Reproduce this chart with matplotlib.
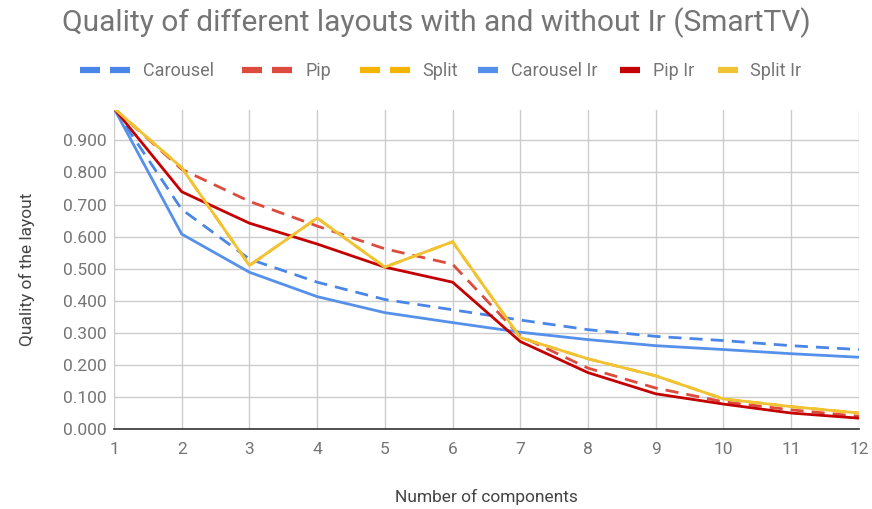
import matplotlib
matplotlib.use("Agg")
import matplotlib.pyplot as plt
from matplotlib.lines import Line2D

plt.rcParams['font.family'] = ['Roboto', 'DejaVu Sans']

components = [1, 2, 3, 4, 5, 6, 7, 8, 9, 10, 11, 12]

carousel = [1.000, 0.685, 0.530, 0.458, 0.404, 0.372, 0.340, 0.310, 0.289, 0.276, 0.260, 0.248]
pip = [1.000, 0.810, 0.710, 0.633, 0.562, 0.514, 0.290, 0.190, 0.128, 0.085, 0.060, 0.040]
split = [1.000, 0.815, 0.510, 0.658, 0.505, 0.584, 0.285, 0.219, 0.166, 0.094, 0.070, 0.050]
carousel_ir = [1.000, 0.608, 0.489, 0.413, 0.363, 0.332, 0.302, 0.279, 0.260, 0.248, 0.235, 0.224]
pip_ir = [1.000, 0.740, 0.642, 0.577, 0.505, 0.458, 0.273, 0.176, 0.110, 0.078, 0.050, 0.034]
split_ir = [1.000, 0.815, 0.510, 0.658, 0.505, 0.584, 0.285, 0.219, 0.166, 0.094, 0.070, 0.050]

series_names = ["Carousel", "Pip", "Split", "Carousel Ir", "Pip Ir", "Split Ir"]
y_ticks = [0.0, 0.1, 0.2, 0.3, 0.4, 0.5, 0.6, 0.7, 0.8, 0.9]

BLUE = "#4a86e8"
RED = "#dd4b3e"
YELLOW = "#f4b400"
BLUE_IR = "#5590ea"
RED_IR = "#c40000"
YELLOW_IR = "#f1c232"
GRAY = "#757575"

fig = plt.figure(figsize=(8.72, 5.09), dpi=100)
ax = fig.add_axes([0.1307, 0.157, 0.8543, 0.627])

lw = 2.0
dash = (4.7, 2.9)
series = [
    (carousel, BLUE, True),
    (pip, RED, True),
    (split, YELLOW, True),
    (carousel_ir, BLUE_IR, False),
    (pip_ir, RED_IR, False),
    (split_ir, YELLOW_IR, False),
]
for vals, color, dashed in series:
    if dashed:
        ax.plot(components, vals, color=color, lw=lw, linestyle=(0, dash), zorder=3)
    else:
        ax.plot(components, vals, color=color, lw=lw, zorder=4)

ax.set_xlim(1, 12)
ax.set_ylim(0, 0.995)
ax.set_xticks(components)
ax.set_xticklabels([str(c) for c in components])
ax.set_yticks(y_ticks)
ax.set_yticklabels([f"{v:.3f}" for v in y_ticks])
ax.tick_params(axis='both', length=0, labelsize=12.5, labelcolor=GRAY)
ax.tick_params(axis='x', pad=9)
ax.tick_params(axis='y', pad=5)
ax.grid(True, color="#cccccc", lw=1.0)
ax.set_axisbelow(True)
for side in ("top", "right", "left"):
    ax.spines[side].set_visible(False)
ax.spines["bottom"].set_color("#333333")
ax.spines["bottom"].set_linewidth(1.2)

ax.set_xlabel("Number of components", fontsize=12.5, color="#444444", labelpad=23)
ax.set_ylabel("Quality of the layout", fontsize=12.5, color="#444444", labelpad=20)

fig.text(0.5, 0.955, "Quality of different layouts with and without Ir (SmartTV)",
         ha="center", va="center", fontsize=21.5, color=GRAY)

# Legend: dashed series on the left group, solid "Ir" series on the right group
dashed_handles = []
solid_handles = []
for (vals, color, dashed), name in zip(series, series_names):
    if dashed:
        dashed_handles.append(Line2D([], [], color=color, lw=4.5, linestyle=(0, (3.2, 1.6)),
                                     dash_capstyle='butt', label=name))
    else:
        solid_handles.append(Line2D([], [], color=color, lw=4.5, solid_capstyle='butt',
                                    label=name))

leg_kw = dict(frameon=False, fontsize=13, handletextpad=0.7, borderpad=0,
              borderaxespad=0, ncol=3)
leg1 = fig.legend(handles=dashed_handles, loc="center right",
                  bbox_to_anchor=(458 / 872, 0.8605), handlelength=2.77,
                  columnspacing=1.6, **leg_kw)
leg2 = fig.legend(handles=solid_handles, loc="center left",
                  bbox_to_anchor=(478 / 872, 0.8605), handlelength=1.1,
                  columnspacing=1.3, **leg_kw)
for leg in (leg1, leg2):
    for t in leg.get_texts():
        t.set_color(GRAY)

fig.savefig("out.png", dpi=100, facecolor="white")
